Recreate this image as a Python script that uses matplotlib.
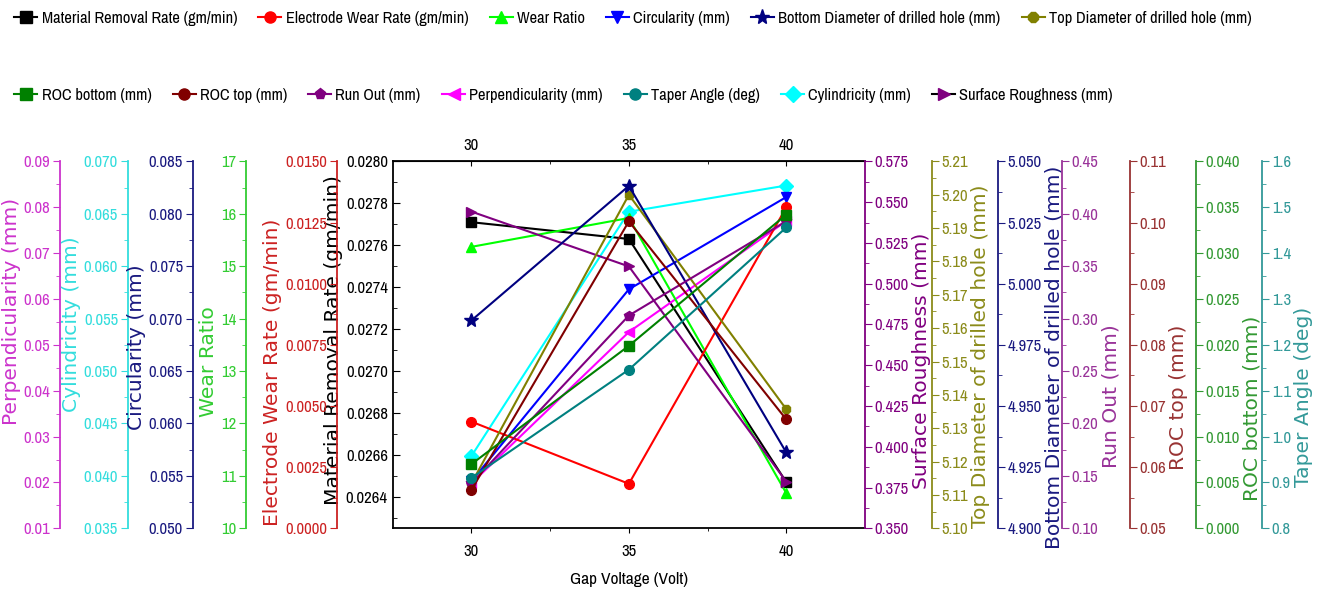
import matplotlib
matplotlib.use("Agg")
import matplotlib.pyplot as plt
from matplotlib import font_manager
from matplotlib.ticker import MultipleLocator, FormatStrFormatter, AutoMinorLocator, FixedLocator
from matplotlib.lines import Line2D

# pick a condensed face if the system has one, otherwise shrink the regular one
names = {f.name for f in font_manager.fontManager.ttflist}
NARROW, SC = "Liberation Sans", 0.85
for cand in ["Liberation Sans Narrow", "Archivo Narrow"]:
    if cand in names:
        NARROW, SC = cand, 1.0
        break
WIDE = "DejaVu Sans"
plt.rcParams["font.family"] = NARROW
plt.rcParams["font.size"] = 11

# data (gap voltage 30 / 35 / 40 V)
voltage = [30, 35, 40]
mrr = [0.02771, 0.02763, 0.02647]
ewr = [0.00436, 0.00182, 0.01312]
wear_ratio = [15.37, 15.92, 10.67]
circularity = [0.0545, 0.0728, 0.0816]
bottom_dia = [4.985, 5.040, 4.931]
top_dia = [5.1135, 5.200, 5.1357]
roc_bottom = [0.0070, 0.0199, 0.0342]
roc_top = [0.0563, 0.1002, 0.0678]
run_out = [0.143, 0.303, 0.393]
perpendicularity = [0.0198, 0.0528, 0.0770]
taper = [0.910, 1.146, 1.456]
cylindricity = [0.0419, 0.0652, 0.0677]
surface_rough = [0.5442, 0.5106, 0.3786]

TICK = 12 * SC
LAB = 14.6

fig = plt.figure(figsize=(13.18, 6.02), dpi=100)
ax = fig.add_axes([0.298, 0.1224, 0.3583, 0.6095])

# host axis: MRR
ax.plot(voltage, mrr, color="black", marker="s", ms=7, lw=1.5)
ax.set_xlim(27.5, 42.5)
ax.set_ylim(0.02625, 0.0280)
ax.yaxis.set_major_locator(MultipleLocator(0.0002))
ax.yaxis.set_minor_locator(MultipleLocator(0.0001))
ax.yaxis.set_major_formatter(FormatStrFormatter("%.4f"))
ax.set_xticks([30, 35, 40])
ax.xaxis.set_minor_locator(FixedLocator([32.5, 37.5]))
ax.tick_params(axis="y", which="both", direction="in", labelsize=TICK)
ax.tick_params(axis="y", which="major", length=5)
ax.tick_params(axis="y", which="minor", length=3)
ax.tick_params(axis="x", which="both", direction="out", labelsize=TICK, pad=8)
ax.set_ylabel("Material Removal Rate (gm/min)", family=WIDE, fontsize=LAB, labelpad=2)
ax.yaxis.label.set_y(0.513)
ax.set_xlabel("Gap Voltage (Volt)", fontsize=12.5 * SC, labelpad=9)
ax.spines["right"].set_visible(False)
for s in ax.spines.values():
    s.set_linewidth(1.3)

sec = ax.secondary_xaxis("top")
sec.set_xticks([30, 35, 40])
sec.xaxis.set_minor_locator(FixedLocator([32.5, 37.5]))
sec.tick_params(which="both", direction="in", labelsize=TICK, pad=6)

# extra y axes: label, data, axis colour, series colour, marker, limits, step, format, side, position, label y
specs = [
    ("Perpendicularity (mm)", perpendicularity, "#CC33CC", "#FF00FF", "<", (0.01, 0.09), 0.01, "%.2f", "left", -0.7044, 0.592),
    ("Cylindricity (mm)", cylindricity, "#33DDDD", "#00FFFF", "D", (0.035, 0.070), 0.005, "%.3f", "left", -0.5611, 0.557),
    ("Circularity (mm)", circularity, "#1A1A80", "#0000FF", "v", (0.050, 0.085), 0.005, "%.3f", "left", -0.4235, 0.493),
    ("Wear Ratio", wear_ratio, "#33CC33", "#00FF00", "^", (10, 17), 1, "%d", "left", -0.3106, 0.454),
    ("Electrode Wear Rate (gm/min)", ewr, "#CC2222", "#FF0000", "o", (0.0, 0.015), 0.0025, "%.4f", "left", -0.1186, 0.425),
    ("Surface Roughness (mm)", surface_rough, "#800080", "#800080", ">", (0.35, 0.575), 0.025, "%.3f", "right", 1.0, 0.457),
    ("Top Diameter of drilled hole (mm)", top_dia, "#8B8B1A", "#808000", "8", (5.10, 5.21), 0.01, "%.2f", "right", 1.1419, 0.468),
    ("Bottom Diameter of drilled hole (mm)", bottom_dia, "#1A1A80", "#000080", "*", (4.90, 5.05), 0.025, "%.3f", "right", 1.2816, 0.467),
    ("Run Out (mm)", run_out, "#993399", "#800080", "p", (0.10, 0.45), 0.05, "%.2f", "right", 1.4171, 0.36),
    ("ROC top (mm)", roc_top, "#993333", "#800000", "o", (0.05, 0.11), 0.01, "%.2f", "right", 1.5611, 0.357),
    ("ROC bottom (mm)", roc_bottom, "#339933", "#008000", "s", (0.0, 0.04), 0.005, "%.3f", "right", 1.7009, 0.328),
    ("Taper Angle (deg)", taper, "#339999", "#008080", "o", (0.8, 1.6), 0.1, "%.1f", "right", 1.8407, 0.358),
]

handles = {}
for label, vals, acol, scol, mk, lim, step, fmt, side, pos, ly in specs:
    tw = ax.twinx()
    ms = 10 if mk == "*" else 7
    tw.plot(voltage, vals, color=scol, marker=mk, ms=ms, lw=1.5)
    handles[label] = Line2D([], [], color=("black" if mk == ">" else scol), marker=mk, ms=ms + 1, lw=1.5, mfc=scol, mec=scol)
    tw.set_ylim(*lim)
    tw.yaxis.set_major_locator(MultipleLocator(step))
    tw.yaxis.set_minor_locator(AutoMinorLocator(2))
    tw.yaxis.set_major_formatter(FormatStrFormatter(fmt))
    for s in tw.spines.values():
        s.set_visible(False)
    tw.spines[side].set_visible(True)
    tw.spines[side].set_position(("axes", pos))
    tw.spines[side].set_color(acol)
    tw.spines[side].set_linewidth(1.3)
    tw.yaxis.set_ticks_position(side)
    tw.yaxis.set_label_position(side)
    tw.tick_params(axis="y", which="both", direction="out", colors=acol, labelsize=TICK, pad=2)
    tw.tick_params(axis="y", which="major", length=5)
    tw.tick_params(axis="y", which="minor", length=3)
    tw.set_ylabel(label, color=acol, family=WIDE, fontsize=LAB, labelpad=2)
    tw.yaxis.label.set_y(ly)

handles["Material Removal Rate (gm/min)"] = Line2D([], [], color="black", marker="s", ms=8, lw=1.5)

row1 = ["Material Removal Rate (gm/min)", "Electrode Wear Rate (gm/min)", "Wear Ratio",
        "Circularity (mm)", "Bottom Diameter of drilled hole (mm)", "Top Diameter of drilled hole (mm)"]
row2 = ["ROC bottom (mm)", "ROC top (mm)", "Run Out (mm)", "Perpendicularity (mm)",
        "Taper Angle (deg)", "Cylindricity (mm)", "Surface Roughness (mm)"]

for row, y in [(row1, 0.970), (row2, 0.842)]:
    fig.legend([handles[k] for k in row], row, loc="center left", bbox_to_anchor=(0.011, y),
               ncol=len(row), frameon=False, fontsize=11.8 * SC, handlelength=1.4, handletextpad=0.25,
               columnspacing=1.3, borderpad=0, borderaxespad=0)

fig.savefig("out.png", dpi=100)
